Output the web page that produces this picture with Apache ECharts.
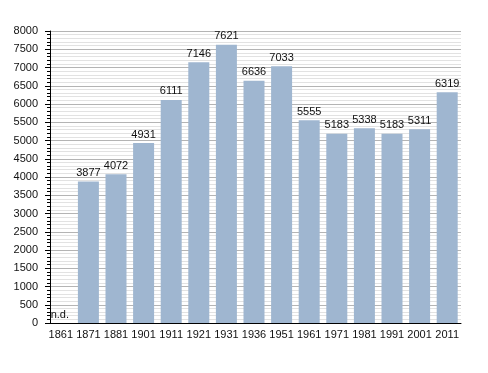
<!DOCTYPE html>
<html>
<head>
<meta charset="utf-8">
<script src="https://cdn.jsdelivr.net/npm/echarts@6/dist/echarts.min.js"></script>
<style>
html,body{margin:0;padding:0;background:#fff;}
#chart{width:488px;height:373px;}
</style>
</head>
<body>
<div id="chart"></div>
<script>
const years = ['1861','1871','1881','1901','1911','1921','1931','1936','1951','1961','1971','1981','1991','2001','2011'];
const population = [null,3877,4072,4931,6111,7146,7621,6636,7033,5555,5183,5338,5183,5311,6319];
const missingLabel = 'n.d.';
const yMin = 0, yMax = 8000, yStep = 500;

const seriesData = population.map(v => v === null
  ? {value: 0, label: {show: true, formatter: missingLabel, position: 'top', offset: [-1, 0], distance: 3}}
  : v);

const chart = echarts.init(document.getElementById('chart'), null, {renderer: 'canvas'});
chart.setOption({
  animation: false,
  backgroundColor: '#ffffff',
  grid: {left: 47, right: 27, top: 31, bottom: 50, containLabel: false},
  xAxis: {
    type: 'category',
    data: years,
    axisLine: {show: true, lineStyle: {color: '#000', width: 1}},
    axisTick: {show: false},
    axisLabel: {interval: 0, color: '#111', fontSize: 11, fontFamily: 'Liberation Sans, Arial, sans-serif', margin: 6}
  },
  yAxis: {
    type: 'value',
    min: yMin, max: yMax, interval: yStep,
    offset: -3,
    axisLine: {show: true, lineStyle: {color: '#000', width: 1}},
    axisTick: {show: true, length: 5, lineStyle: {color: '#000'}},
    minorTick: {show: true, splitNumber: 5, length: 3, lineStyle: {color: '#000'}},
    axisLabel: {formatter: v => String(v), color: '#111', fontSize: 11, fontFamily: 'Liberation Sans, Arial, sans-serif', margin: 12},
    splitLine: {show: true, lineStyle: {color: '#b4b4b4', width: 1}},
    minorSplitLine: {show: true, lineStyle: {color: '#e2e2e2', width: 1}}
  },
  series: [{
    type: 'bar',
    data: seriesData,
    barWidth: 21,
    itemStyle: {color: '#9fb6d0'},
    label: {show: true, position: 'top', distance: 3, color: '#111', fontSize: 11, fontFamily: 'Liberation Sans, Arial, sans-serif'}
  }]
});
</script>
</body>
</html>
